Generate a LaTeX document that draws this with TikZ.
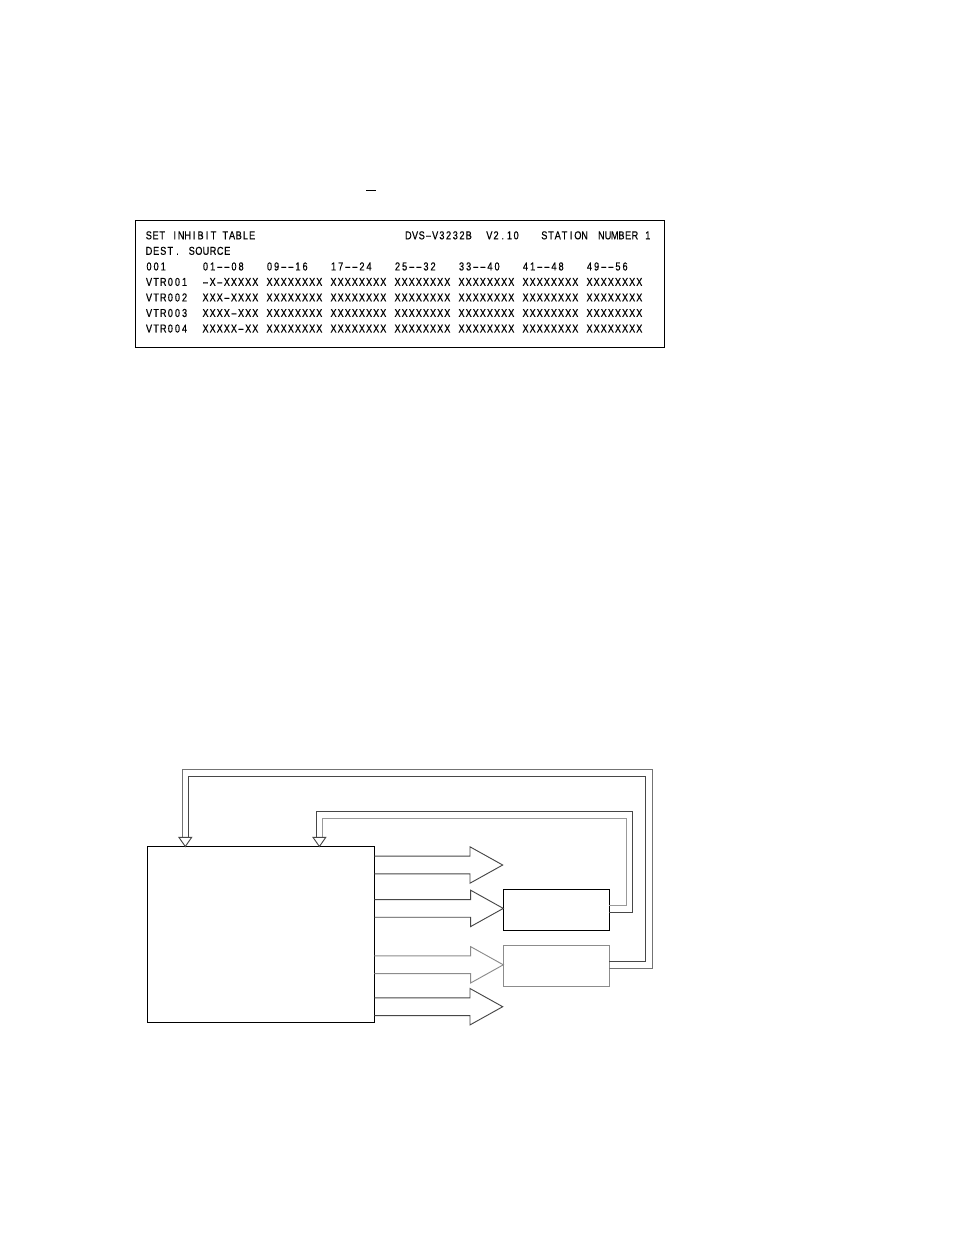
\documentclass[tikz,border=0pt]{standalone}
\usepackage{fontspec}
\usepackage{graphicx}
\usetikzlibrary{calc}
\newfontfamily\tfont[FakeStretch=0.8,FakeBold=0.5]{Liberation Sans}
\ExplSyntaxOn
\cs_new_protected:Npn \rs_grid:nn #1#2
  {
    \tl_map_inline:nn {#2}
      {
        \str_if_eq:nnTF {##1} {-}
          { \makebox[#1][c]{\scalebox{2.1}[1]{-}} }
          { \makebox[#1][c]{##1} }
      }
  }
\cs_generate_variant:Nn \rs_grid:nn {nx}
\NewDocumentCommand\gridtxt{mm}{\rs_grid:nx{#1}{#2}}
\ExplSyntaxOff
\newcommand\rowpitch{5.33pt}
\newcommand\hdpitch{5.03pt}
\newcommand\hollowarrow[3]{%
  \draw[#3] ($(#1)+(0,-8.85)$) -- ($(#2)+(-32.7,-8.85)$) -- ($(#2)+(-32.7,-18.2)$) -- (#2)
    -- ($(#2)+(-32.7,18.2)$) -- ($(#2)+(-32.7,8.85)$) -- ($(#1)+(0,8.85)$);}
\tikzset{
  tx/.style={anchor=base west, inner sep=0pt, outer sep=0pt, font=\tfont\fontsize{8.6}{10}\selectfont},
  boxn/.style={draw, line width=0.8pt, inner sep=0pt, outer sep=0pt, anchor=north west},
  arrowline/.style={line width=0.7pt, line join=miter, draw=black!72},
  fbdark/.style={line width=0.7pt, draw=black!72},
  fblight/.style={line width=0.7pt, draw=black!40},
}
\begin{document}
\begin{tikzpicture}[x=0.75pt, y=-0.75pt]
\fill[white] (0,0) rectangle (954,1243);
\useasboundingbox (0,0) rectangle (954,1243);

% small bar above the table
\draw[line width=1.1pt] (366,190.7) -- (375.7,190.7);

% table frame
\node[boxn, line width=0.7pt, minimum width=396.98pt, minimum height=94.73pt] (tablebox) at (135,220.7) {};

% header line
\node[tx] (h-set) at (145.5,239.3) {\gridtxt{\hdpitch}{SET}};
\node[tx] (h-inhibit) at (171.5,239.3) {\gridtxt{4.85pt}{INHIBIT}};
\node[tx] (h-table) at (222,239.3) {\gridtxt{\hdpitch}{TABLE}};
\node[tx] (h-model) at (405,239.3) {\gridtxt{\hdpitch}{DVS-V3232B}};
\node[tx] (h-ver) at (486,239.3) {\gridtxt{\hdpitch}{V2.10}};
\node[tx] (h-station) at (541,239.3) {\gridtxt{\hdpitch}{STATION}};
\node[tx] (h-number) at (598,239.3) {\gridtxt{\hdpitch}{NUMBER}};
\node[tx] (h-one) at (644.5,239.3) {\gridtxt{\hdpitch}{1}};

% second line
\node[tx] (l2-dest) at (145.5,254.8) {\gridtxt{\rowpitch}{DEST.}};
\node[tx] (l2-source) at (188.2,254.8) {\gridtxt{\rowpitch}{SOURCE}};

% column headings
\node[tx] (l3-num) at (145.5,270.4) {\gridtxt{\rowpitch}{001}};
\foreach \lab [count=\k from 0] in {01--08,09--16,17--24,25--32,33--40,41--48,49--56}
  \node[tx] (col\k) at ({202+64*\k},270.4) {\gridtxt{\rowpitch}{\lab}};

% rows
\foreach \lbl/\first [count=\i] in {VTR001/-X-XXXXX, VTR002/XXX-XXXX, VTR003/XXXX-XXX, VTR004/XXXXX-XX}{
  \node[tx] (row\i lbl) at (145.5,{239.3+15.53*(\i+2)}) {\gridtxt{\rowpitch}{\lbl}};
  \node[tx] (row\i c0) at (202,{239.3+15.53*(\i+2)}) {\gridtxt{\rowpitch}{\first}};
  \foreach \k in {1,...,6}
    \node[tx] (row\i c\k) at ({202+64*\k},{239.3+15.53*(\i+2)}) {\gridtxt{\rowpitch}{XXXXXXXX}};
}

% ---- block diagram ----
\node[boxn, minimum width=170.25pt, minimum height=131.85pt] (big) at (147.3,846.5) {};
\node[boxn, minimum width=79.5pt, minimum height=30.75pt] (box1) at (503.3,889.3) {};
\node[boxn, draw=black!45, minimum width=79.5pt, minimum height=31.05pt] (box2) at (503.3,945.3) {};

% hollow output arrows
\coordinate (t1) at (502.7,865);
\coordinate (t2) at (box1.west |- 0,908.4);
\coordinate (t3) at (box2.west |- 0,964.8);
\coordinate (t4) at (502.7,1006.7);
\foreach \n in {1,2,3,4} \coordinate (s\n) at (big.east |- t\n);
\hollowarrow{s1}{t1}{arrowline}
\hollowarrow{s2}{t2}{arrowline}
\hollowarrow{s3}{t3}{arrowline, draw=black!45}
\hollowarrow{s4}{t4}{arrowline}

% feedback loops (double lines with open heads)
\coordinate (h1) at (319.4,0 |- big.north);
\coordinate (h2) at (185.3,0 |- big.north);
\draw[fbdark] (box1.east |- 0,912.3) -| (632.7,811) -| ($(h1)+(-3.2,-9.2)$);
\draw[fblight] (box1.east |- 0,905.7) -| (626.3,818.3) -| ($(h1)+(3.2,-9.2)$);
\draw[fbdark] (box2.east |- 0,961.3) -| (645.3,776) -| ($(h2)+(3,-9.2)$);
\draw[fblight, draw=black!55] (box2.east |- 0,968.3) -| (652.3,769.3) -| ($(h2)+(-3,-9.2)$);
\draw[fbdark, fill=white, line join=miter] ($(h1)+(-6.4,-9.2)$) -- (h1) -- ($(h1)+(6.4,-9.2)$) -- cycle;
\draw[fbdark, fill=white, line join=miter] ($(h2)+(-6.4,-9.2)$) -- (h2) -- ($(h2)+(6.4,-9.2)$) -- cycle;
\end{tikzpicture}
\end{document}
